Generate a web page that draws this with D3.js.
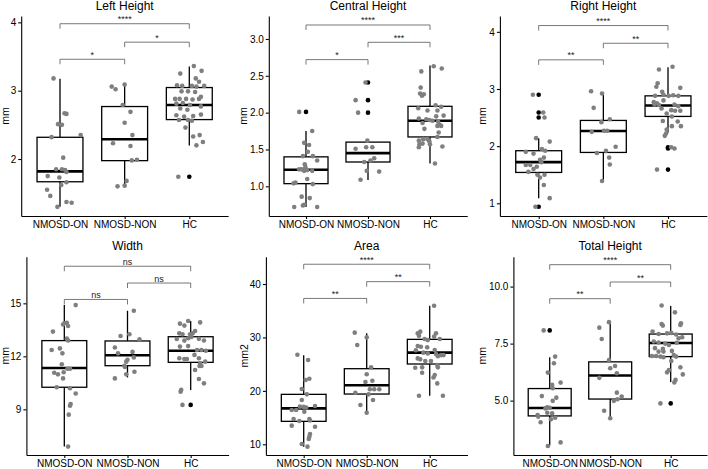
<!DOCTYPE html>
<html>
<head>
<meta charset="utf-8">
<script src="https://cdn.jsdelivr.net/npm/d3@7"></script>
<style>
  html, body { margin: 0; padding: 0; background: #fff; }
  svg { display: block; font-family: "Liberation Sans", Arial, Helvetica, sans-serif; }
</style>
</head>
<body>
<svg id="chart" width="708" height="469"></svg>
<script>
// groups on the x axis
const groups = ['NMOSD-ON', 'NMOSD-NON', 'HC']

const titles = ['Left Height', 'Central Height', 'Right Height', 'Width', 'Area', 'Total Height']
const yTitles = ['mm', 'mm', 'mm', 'mm', 'mm2', 'mm']

// value range shown on each y axis
const yDomains = [
  [1.166, 4.093], [0.597, 3.312], [0.778, 4.277],
  [6.415, 17.64], [8.0, 45.11], [2.617, 11.31]
]
const yTicks = [
  [2, 3, 4], [1.0, 1.5, 2.0, 2.5, 3.0], [1, 2, 3, 4],
  [9, 12, 15], [10, 20, 30, 40], [5.0, 7.5, 10.0]
]
const yFormats = ['d', '.1f', 'd', 'd', 'd', '.1f']

// box stats per group: [lower whisker, q1, median, q3, upper whisker]
const boxLeft = [[1.30, 1.667, 1.819, 2.318, 3.174], [1.594, 1.976, 2.289, 2.768, 3.10], [2.196, 2.577, 2.79, 3.046, 3.355]]
const boxCentral = [[0.72, 1.036, 1.224, 1.40, 1.75], [1.086, 1.33, 1.45, 1.60, 1.62], [1.31, 1.67, 1.89, 2.086, 2.64]]
const boxRight = [[1.09, 1.54, 1.72, 1.92, 2.14], [1.39, 1.89, 2.265, 2.45, 2.92], [2.24, 2.52, 2.71, 2.88, 3.38]]
const boxWidth = [[6.89, 10.25, 11.34, 12.89, 14.9], [10.81, 11.47, 12.06, 12.87, 14.58], [10.1, 11.66, 12.32, 13.11, 14.0]]
const boxArea = [[9.56, 14.3, 16.73, 19.35, 26.65], [15.92, 19.41, 21.04, 24.15, 30.77], [19.1, 25.03, 27.15, 29.64, 35.94]]
const boxTotal = [[3.03, 4.33, 4.68, 5.53, 6.9], [4.23, 5.07, 6.10, 6.70, 8.46], [5.82, 6.93, 7.53, 7.92, 9.15]]

// boxplot outliers per group
const outLeft = [[], [], [1.74]]
const outCentral = [[2.01], [2.0, 2.17, 2.41], []]
const outRight = [[2.90, 2.59, 2.50, 0.94], [], [1.98, 1.96, 1.59]]
const outWidth = [[], [], [9.25]]
const outArea = [[], [], []]
const outTotal = [[8.08], [], [4.88]]

// jittered observations per group: [jitter offset (in group units), value]
const ptsLeft = [
  [[-0.10, 3.18], [0.07, 2.67], [0.10, 2.66], [-0.03, 2.51], [0.03, 2.50], [0.32, 2.35], [-0.13, 2.32], [0.05, 2.02],
   [-0.06, 1.85], [0.03, 1.85], [0.08, 1.84], [0.10, 1.81], [-0.19, 1.75], [-0.01, 1.73], [0.10, 1.66], [0.02, 1.62],
   [-0.20, 1.55], [-0.15, 1.46], [0.10, 1.37], [0.18, 1.36], [-0.04, 1.30]],
  [[0.0, 3.09], [-0.20, 3.06], [-0.14, 3.02], [-0.03, 2.79], [0.09, 2.69], [0.0, 2.53], [0.12, 2.35], [-0.18, 2.23],
   [0.09, 2.19], [0.19, 1.99], [0.11, 1.98], [0.03, 1.68], [0.0, 1.61], [-0.11, 1.60]],
  [[0.07, 3.36], [0.19, 3.29], [-0.14, 3.25], [0.10, 3.18], [0.15, 3.13], [-0.19, 3.08], [-0.11, 3.07], [0.04, 3.07],
   [0.11, 3.06], [0.23, 3.07], [-0.12, 2.99], [-0.02, 2.99], [0.09, 2.98], [0.18, 2.91], [-0.22, 2.88], [-0.15, 2.88],
   [-0.05, 2.88], [0.05, 2.87], [0.15, 2.88], [-0.20, 2.81], [-0.10, 2.82], [0.01, 2.79], [0.18, 2.77], [-0.14, 2.74],
   [-0.03, 2.72], [-0.20, 2.64], [-0.08, 2.62], [0.06, 2.63], [0.18, 2.65], [-0.16, 2.57], [-0.02, 2.57], [0.04, 2.56],
   [-0.06, 2.46], [0.16, 2.35], [0.06, 2.33], [0.21, 2.25], [0.11, 2.20], [-0.17, 1.74]]
]
const ptsCentral = [
  [[-0.11, 2.01], [0.10, 1.75], [-0.03, 1.59], [0.05, 1.56], [0.03, 1.47], [0.11, 1.41], [-0.05, 1.41], [0.18, 1.35],
   [-0.02, 1.30], [-0.01, 1.26], [-0.11, 1.23], [-0.07, 1.23], [0.02, 1.22], [0.10, 1.21], [-0.03, 1.21], [0.02, 1.10],
   [-0.17, 1.05], [-0.20, 1.04], [0.11, 1.03], [-0.07, 0.86], [0.06, 0.84], [-0.03, 0.75], [-0.05, 0.74], [-0.19, 0.72],
   [0.18, 0.72]],
  [[-0.04, 2.41], [-0.20, 2.17], [-0.16, 2.00], [-0.01, 1.62], [-0.20, 1.51], [-0.03, 1.53], [0.07, 1.53], [0.10, 1.38],
   [0.04, 1.35], [-0.06, 1.33], [-0.02, 1.21], [0.18, 1.20], [-0.12, 1.09]],
  [[0.06, 2.63], [0.19, 2.60], [-0.14, 2.56], [-0.15, 2.34], [-0.16, 2.26], [-0.13, 2.23], [-0.10, 2.25], [0.09, 2.10],
   [0.18, 2.08], [-0.19, 2.06], [-0.04, 2.03], [0.12, 2.03], [0.10, 1.95], [0.22, 1.96], [-0.18, 1.92], [-0.06, 1.91],
   [-0.01, 1.90], [0.04, 1.89], [0.13, 1.88], [0.15, 1.84], [-0.12, 1.86], [-0.09, 1.78], [0.12, 1.82], [0.18, 1.82],
   [0.14, 1.73], [0.12, 1.67], [-0.18, 1.62], [-0.11, 1.64], [-0.04, 1.64], [-0.01, 1.61], [-0.17, 1.57], [-0.12, 1.58],
   [-0.18, 1.53], [0.20, 1.54], [0.0, 1.57], [0.08, 1.31]]
]
const ptsRight = [
  [[-0.09, 2.90], [0.07, 2.59], [0.09, 2.50], [-0.04, 2.14], [0.17, 2.08], [0.05, 1.95], [0.10, 1.92], [-0.20, 1.90],
   [-0.08, 1.87], [0.08, 1.80], [0.02, 1.76], [0.04, 1.72], [-0.20, 1.67], [-0.13, 1.67], [-0.03, 1.64], [-0.08, 1.60],
   [-0.16, 1.55], [-0.02, 1.50], [0.09, 1.50], [0.02, 1.45], [0.08, 1.32], [0.17, 1.09], [-0.05, 0.94]],
  [[-0.19, 2.96], [-0.02, 2.92], [-0.15, 2.67], [0.10, 2.47], [-0.03, 2.42], [0.01, 2.27], [0.06, 2.27], [-0.18, 2.25],
   [0.19, 1.99], [0.04, 1.92], [-0.10, 1.88], [0.09, 1.80], [0.10, 1.68], [-0.02, 1.39]],
  [[0.07, 3.39], [-0.14, 3.34], [-0.16, 3.10], [-0.18, 3.04], [0.19, 3.02], [-0.09, 2.95], [-0.20, 2.88], [-0.07, 2.90],
   [0.01, 2.88], [0.08, 2.89], [0.16, 2.88], [-0.22, 2.77], [-0.07, 2.80], [-0.17, 2.75], [-0.14, 2.72], [-0.21, 2.73],
   [0.10, 2.73], [0.16, 2.70], [-0.10, 2.66], [0.05, 2.63], [0.11, 2.62], [0.19, 2.62], [-0.02, 2.57], [0.06, 2.52],
   [-0.08, 2.44], [0.15, 2.43], [0.06, 2.35], [0.20, 2.35], [-0.02, 2.29], [-0.03, 2.22], [-0.05, 2.18], [0.05, 1.98],
   [0.10, 1.96], [-0.17, 1.59]]
]
const ptsWidth = [
  [[0.18, 14.9], [0.04, 13.9], [0.0, 13.87], [0.06, 13.72], [-0.02, 13.8], [-0.18, 13.4], [0.04, 13.0], [0.06, 12.9],
   [-0.20, 12.36], [-0.07, 12.45], [-0.03, 12.17], [-0.04, 11.55], [0.05, 11.3], [0.09, 11.3], [-0.01, 11.1],
   [-0.16, 11.07], [-0.10, 10.98], [-0.02, 10.75], [-0.12, 10.25], [0.09, 10.19], [0.18, 9.9], [0.10, 9.3], [0.09, 9.2],
   [0.07, 8.7], [0.06, 6.89]],
  [[0.10, 14.58], [-0.11, 13.15], [0.03, 13.25], [0.19, 12.96], [-0.20, 12.5], [-0.15, 12.17], [0.08, 12.25],
   [0.10, 11.94], [0.0, 11.8], [-0.02, 11.7], [-0.05, 11.47], [-0.04, 11.4], [0.11, 11.13], [-0.20, 10.75], [-0.02, 10.98]],
  [[-0.04, 14.0], [0.15, 13.92], [-0.17, 13.85], [-0.10, 13.74], [0.07, 13.43], [-0.18, 13.3], [-0.13, 13.25],
   [-0.01, 13.25], [0.03, 13.3], [-0.22, 12.98], [-0.10, 12.89], [-0.04, 13.02], [0.01, 13.1], [0.13, 12.99],
   [0.21, 12.9], [-0.17, 12.55], [-0.04, 12.58], [0.10, 12.36], [0.17, 12.36], [0.24, 12.32], [-0.18, 11.89],
   [-0.10, 11.85], [-0.06, 11.85], [0.06, 12.08], [0.13, 11.89], [0.15, 11.6], [0.17, 11.45], [0.14, 11.45],
   [0.23, 11.7], [0.07, 11.23], [0.13, 10.72], [0.21, 10.47], [-0.15, 10.1], [-0.16, 10.0], [-0.13, 9.25]]
]
const ptsArea = [
  [[-0.10, 26.77], [0.07, 25.78], [0.03, 22.03], [0.09, 22.28], [-0.03, 20.35], [0.05, 19.35], [-0.03, 18.29],
   [-0.06, 17.05], [0.0, 17.0], [0.04, 16.9], [0.18, 17.17], [-0.19, 16.42], [-0.12, 16.42], [0.01, 16.1],
   [-0.16, 14.74], [-0.07, 14.36], [0.09, 14.74], [0.10, 14.45], [-0.19, 13.49], [0.18, 13.3], [0.10, 11.93],
   [0.09, 11.43], [0.08, 11.0], [-0.03, 10.06], [0.06, 9.56]],
  [[-0.19, 30.9], [0.0, 30.02], [-0.15, 28.58], [0.07, 24.4], [0.0, 23.1], [0.09, 21.9], [-0.02, 21.66], [-0.18, 19.66],
   [0.05, 20.3], [0.12, 20.3], [0.20, 20.3], [0.03, 19.35], [0.10, 18.3], [-0.10, 17.35], [0.0, 15.92]],
  [[0.07, 35.94], [-0.15, 31.08], [-0.19, 30.77], [-0.17, 30.3], [0.10, 30.77], [0.07, 30.15], [-0.08, 29.7],
   [-0.03, 29.5], [0.16, 29.7], [-0.19, 28.4], [-0.14, 28.27], [-0.04, 28.15], [-0.22, 27.6], [0.08, 27.65],
   [-0.10, 27.15], [-0.03, 27.0], [0.10, 26.9], [0.18, 26.7], [0.22, 26.7], [0.13, 26.5], [-0.19, 26.08],
   [-0.15, 25.9], [-0.07, 25.6], [0.02, 25.6], [0.12, 24.84], [0.13, 24.4], [-0.23, 24.34], [-0.12, 24.4],
   [-0.12, 23.4], [0.08, 22.97], [0.06, 22.5], [0.12, 21.4], [-0.17, 19.1], [0.21, 19.1]]
]
const ptsTotal = [
  [[-0.10, 8.08], [0.09, 6.93], [0.07, 6.64], [-0.03, 6.23], [0.18, 5.79], [0.04, 5.69], [0.05, 5.54], [-0.13, 5.20],
   [0.11, 5.13], [0.05, 4.99], [-0.04, 4.71], [0.0, 4.69], [-0.07, 4.66], [-0.20, 4.37], [-0.19, 4.30], [-0.04, 4.47],
   [0.04, 4.44], [0.09, 4.25], [0.02, 4.18], [-0.15, 4.05], [-0.03, 3.01], [0.18, 3.17]],
  [[-0.02, 8.44], [-0.18, 8.20], [-0.14, 7.70], [-0.02, 6.78], [0.08, 6.52], [0.0, 6.42], [0.11, 6.20], [-0.18, 6.00],
   [0.11, 5.35], [0.19, 5.18], [0.06, 4.99], [0.12, 5.06], [-0.10, 4.56], [0.0, 4.23]],
  [[-0.15, 9.17], [0.07, 8.87], [-0.15, 8.36], [-0.13, 8.29], [0.17, 8.39], [0.16, 8.32], [-0.30, 8.03], [-0.20, 7.92],
   [-0.06, 7.95], [0.09, 7.90], [0.01, 7.97], [0.19, 7.78], [0.13, 7.73], [-0.28, 7.59], [-0.20, 7.55], [-0.09, 7.50],
   [-0.03, 7.44], [0.10, 7.54], [-0.26, 7.30], [-0.13, 7.27], [-0.12, 7.15], [-0.20, 7.15], [0.02, 7.18], [-0.31, 6.96],
   [-0.24, 6.96], [-0.17, 6.93], [-0.12, 6.90], [0.05, 7.00], [0.09, 6.93], [0.01, 6.74], [0.16, 6.46], [-0.03, 6.34],
   [-0.06, 6.24], [0.20, 6.15], [0.08, 5.91], [0.06, 5.80], [-0.17, 4.88]]
]

// significance brackets: pairs ON-NON, NON-HC, ON-HC
const signifPairs = [[1, 2], [2, 3], [1, 3]]
const signifY = [
  [3.46, 3.71, 3.98], [2.72, 2.955, 3.19], [3.51, 3.80, 4.11],
  [15.22, 16.15, 17.1], [37.3, 40.44, 43.7], [9.47, 10.2, 10.96]
]
const signifLabels = [
  ['*', '*', '****'], ['*', '***', '****'], ['**', '**', '****'],
  ['ns', 'ns', 'ns'], ['**', '**', '****'], ['**', '**', '****']
]

const boxes = [boxLeft, boxCentral, boxRight, boxWidth, boxArea, boxTotal]
const outliers = [outLeft, outCentral, outRight, outWidth, outArea, outTotal]
const points = [ptsLeft, ptsCentral, ptsRight, ptsWidth, ptsArea, ptsTotal]

// plot area of each panel: [left, right, top, bottom]
const plotAreas = [
  [21.2, 228.1, 16, 216], [268.8, 467.2, 16, 216], [499.9, 706.8, 16, 216],
  [26.4, 228.6, 256.7, 455], [265.9, 467.5, 256.7, 455], [513.4, 707.0, 256.7, 455]
]
const yTitleX = [5, 243.5, 482.5, 5, 244.5, 482.5]

const svg = d3.select('#chart')
const halfBox = 0.355
const tip = 5

titles.forEach((title, p) => {
  const [x0, x1, top, bottom] = plotAreas[p]
  const x = d3.scaleLinear().domain([0.4, 3.6]).range([x0, x1])
  const y = d3.scaleLinear().domain(yDomains[p]).range([bottom, top])
  const g = svg.append('g')

  // title
  g.append('text')
    .attr('x', (x0 + x1) / 2)
    .attr('y', top - 6.5)
    .attr('text-anchor', 'middle')
    .style('font-size', '12px')
    .style('fill', '#000')
    .text(title)

  // y axis title
  g.append('text')
    .attr('transform', `translate(${yTitleX[p]},${(top + bottom) / 2}) rotate(-90)`)
    .attr('dy', '0.35em')
    .attr('text-anchor', 'middle')
    .style('font-size', '10.5px')
    .style('fill', '#000')
    .text(yTitles[p])

  // boxes
  boxes[p].forEach((b, i) => {
    const cx = x(i + 1)
    const [lo, q1, med, q3, hi] = b
    g.append('line')
      .attr('x1', cx).attr('x2', cx).attr('y1', y(q3)).attr('y2', y(hi))
      .style('stroke', '#000').style('stroke-width', 1.3)
    g.append('line')
      .attr('x1', cx).attr('x2', cx).attr('y1', y(q1)).attr('y2', y(lo))
      .style('stroke', '#000').style('stroke-width', 1.3)
    g.append('rect')
      .attr('x', x(i + 1 - halfBox))
      .attr('width', x(i + 1 + halfBox) - x(i + 1 - halfBox))
      .attr('y', y(q3))
      .attr('height', y(q1) - y(q3))
      .style('fill', '#fff').style('stroke', '#000').style('stroke-width', 1.3)
    g.append('line')
      .attr('x1', x(i + 1 - halfBox)).attr('x2', x(i + 1 + halfBox))
      .attr('y1', y(med)).attr('y2', y(med))
      .style('stroke', '#000').style('stroke-width', 2.6)
    g.selectAll(null).data(outliers[p][i]).enter().append('circle')
      .attr('cx', cx).attr('cy', d => y(d)).attr('r', 2.3)
      .style('fill', '#000')
  })

  // jittered points
  points[p].forEach((grp, i) => {
    g.selectAll(null).data(grp).enter().append('circle')
      .attr('cx', d => x(i + 1 + d[0]))
      .attr('cy', d => y(d[1]))
      .attr('r', 2.3)
      .style('fill', '#7f7f7f')
  })

  // significance brackets
  signifPairs.forEach((pair, k) => {
    const yy = y(signifY[p][k])
    const xa = x(pair[0]), xb = x(pair[1])
    g.append('path')
      .attr('d', `M${xa},${yy + tip}L${xa},${yy}L${xb},${yy}L${xb},${yy + tip}`)
      .style('fill', 'none').style('stroke', '#555').style('stroke-width', 0.8)
    g.append('text')
      .attr('x', (xa + xb) / 2)
      .attr('y', yy - 1.5)
      .attr('text-anchor', 'middle')
      .style('font-size', '9px')
      .style('fill', '#222')
      .text(signifLabels[p][k])
  })

  // axes
  const yAxis = d3.axisLeft(y).tickValues(yTicks[p]).tickFormat(d3.format(yFormats[p]))
    .tickSize(3).tickSizeOuter(0).tickPadding(2)
  const xAxis = d3.axisBottom(x).tickValues([1, 2, 3]).tickFormat(d => groups[d - 1])
    .tickSize(3).tickSizeOuter(0).tickPadding(2)
  const ya = g.append('g').attr('transform', `translate(${x0},0)`).call(yAxis)
  const xa = g.append('g').attr('transform', `translate(0,${bottom})`).call(xAxis)
  ;[ya, xa].forEach(a => {
    a.select('.domain').style('stroke', '#000').style('stroke-width', 1.1)
    a.selectAll('.tick line').style('stroke', '#000').style('stroke-width', 1.1)
    a.selectAll('.tick text').style('font-size', '10px').style('fill', '#000')
      .style('font-family', '"Liberation Sans", Arial, Helvetica, sans-serif')
  })
})
</script>
</body>
</html>
